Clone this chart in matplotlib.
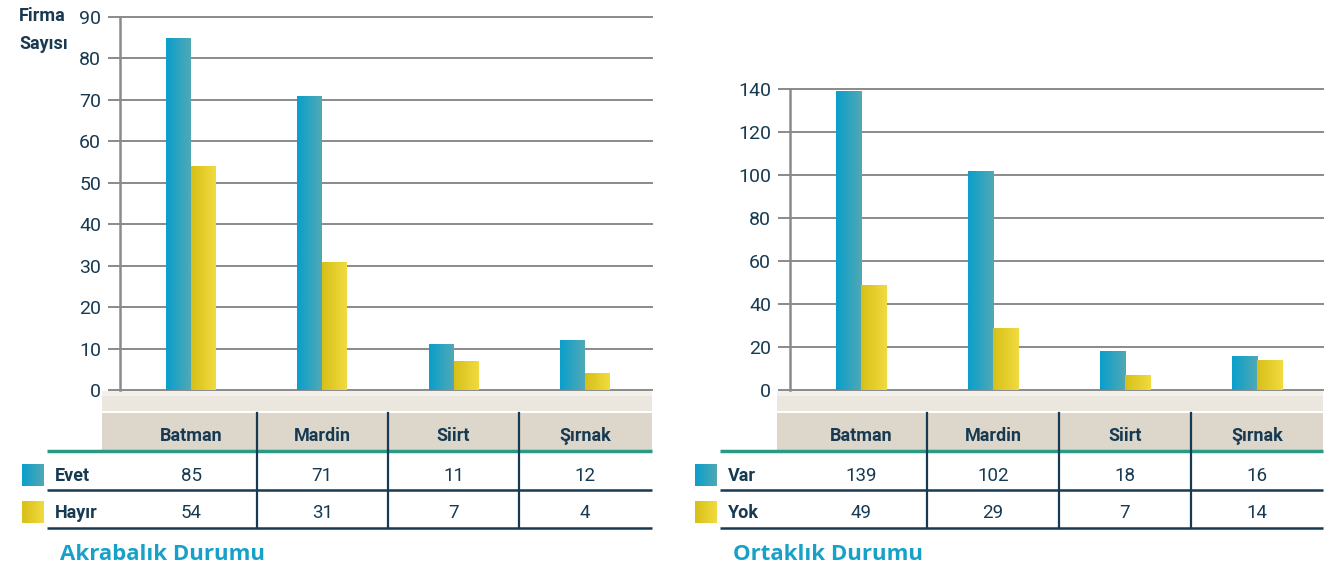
import numpy as np
import matplotlib.pyplot as plt
from matplotlib.patches import Rectangle

cities = ['Batman', 'Mardin', 'Siirt', 'Şırnak']
evet = [85, 71, 11, 12]
hayir = [54, 31, 7, 4]
var = [139, 102, 18, 16]
yok = [49, 29, 7, 14]

NAVY = '#173a52'
GRID = '#8a8a8a'
TEAL = '#2a9a85'
TITLE = '#17a1c9'
NUM_FONT = ['Roboto', 'DejaVu Sans']
TITLE_FONT = ['Open Sans', 'DejaVu Sans']

W, H = 1343, 568
fig = plt.figure(figsize=(W / 100, H / 100), dpi=100)
bg = fig.add_axes([0, 0, 1, 1])
bg.set_xlim(0, W)
bg.set_ylim(H, 0)
bg.axis('off')

blue_grad = np.array([[[11, 159, 203], [80, 168, 181]]]) / 255.0
yellow_grad = np.array([[[216, 192, 24], [240, 218, 62]]]) / 255.0


def ramp(grad):
    return np.linspace(0, 1, 20)[None, :, None] * (grad[:, 1:] - grad[:, :1]) + grad[:, :1]


def grad_bars(ax, bars, grad):
    for b in bars:
        x0, y0 = b.get_x(), b.get_y()
        x1, y1 = x0 + b.get_width(), y0 + b.get_height()
        im = ax.imshow(ramp(grad), extent=[x0, x1, y0, y1], aspect='auto',
                       zorder=3, interpolation='bilinear')
        im.set_clip_path(b)


def panel(L, R, first, step, ymax, ystep, s1, s2, n1, n2, x0tab, xhead, title, ytop):
    ax = fig.add_axes([L / W, (H - 390) / H, (R - L) / W, (390 - ytop) / H])
    ax.patch.set_alpha(0)
    x = np.arange(len(cities))
    bw = 0.19
    b1 = ax.bar(x - bw / 2, s1, bw, color='#1aa0c8', zorder=2)
    b2 = ax.bar(x + bw / 2, s2, bw, color='#e2cb2a', zorder=2)
    grad_bars(ax, b1, blue_grad)
    grad_bars(ax, b2, yellow_grad)
    ax.set_xlim(-(first - L) / step, (R - first) / step)
    ax.set_ylim(0, ymax)
    ax.set_yticks(np.arange(0, ymax + 1, ystep))
    ax.set_xticks([])
    ax.yaxis.grid(True, color=GRID, lw=1.4)
    ax.set_axisbelow(True)
    for s in ['top', 'right', 'bottom']:
        ax.spines[s].set_visible(False)
    ax.spines['left'].set_color(GRID)
    ax.spines['left'].set_linewidth(1.8)
    ax.tick_params(axis='y', length=8.6, width=1.4, color=GRID, pad=5,
                   labelsize=14, labelcolor=NAVY)
    for t in ax.get_yticklabels():
        t.set_family(NUM_FONT)
    for g in ax.get_ygridlines():
        g.set_clip_on(False)

    # floor band and header
    bg.add_patch(Rectangle((xhead, 391), R - xhead, 20, color='#ebe7df', lw=0))
    bg.add_patch(Rectangle((xhead, 391), R - xhead, 5, color='#f2f0eb', lw=0))
    bg.add_patch(Rectangle((xhead, 413), R - xhead, 38, color='#ddd6cb', lw=0))
    bg.plot([x0tab, R], [451, 451], color=TEAL, lw=2.5, solid_capstyle='butt')
    bg.plot([x0tab, R], [490, 490], color=NAVY, lw=1.8, solid_capstyle='butt')
    bg.plot([x0tab, R], [528, 528], color=NAVY, lw=1.8, solid_capstyle='butt')
    for i in range(len(cities) - 1):
        xs = first + (i + 0.5) * step
        bg.plot([xs, xs], [413, 528], color=NAVY, lw=1.6)
    for i, c in enumerate(cities):
        xc = first + i * step
        bg.text(xc, 436, c, ha='center', va='center', fontsize=13, fontweight='bold',
                color=NAVY, family=NUM_FONT)
        bg.text(xc, 476, str(s1[i]), ha='center', va='center', fontsize=13.5,
                color=NAVY, family=NUM_FONT)
        bg.text(xc, 513, str(s2[i]), ha='center', va='center', fontsize=13.5,
                color=NAVY, family=NUM_FONT)
    # legend swatches
    sx = x0tab - 25
    for yy, grad in [(464, blue_grad), (501, yellow_grad)]:
        bg.imshow(ramp(grad), extent=[sx, sx + 22, yy + 22, yy], aspect='auto',
                  interpolation='bilinear')
    bg.text(x0tab + 8, 476, n1, ha='left', va='center', fontsize=13, fontweight='bold',
            color=NAVY, family=NUM_FONT)
    bg.text(x0tab + 8, 513, n2, ha='left', va='center', fontsize=13, fontweight='bold',
            color=NAVY, family=NUM_FONT)
    bg.text(x0tab + 13, 554, title, ha='left', va='center', fontsize=16, fontweight='bold',
            color=TITLE, family=TITLE_FONT)
    return ax


panel(120, 652, 191, 131.3, 90, 10, evet, hayir, 'Evet', 'Hayır', 47, 102, 'Akrabalık Durumu', 17)
panel(790, 1323, 861, 132, 140, 20, var, yok, 'Var', 'Yok', 720, 777, 'Ortaklık Durumu', 89)

bg.set_xlim(0, W)
bg.set_ylim(H, 0)
bg.text(19, 16, 'Firma', ha='left', va='center', fontsize=13, fontweight='bold',
        color=NAVY, family=NUM_FONT)
bg.text(19, 44, 'Sayısı', ha='left', va='center', fontsize=13, fontweight='bold',
        color=NAVY, family=NUM_FONT)

fig.savefig('out.png', dpi=100)
